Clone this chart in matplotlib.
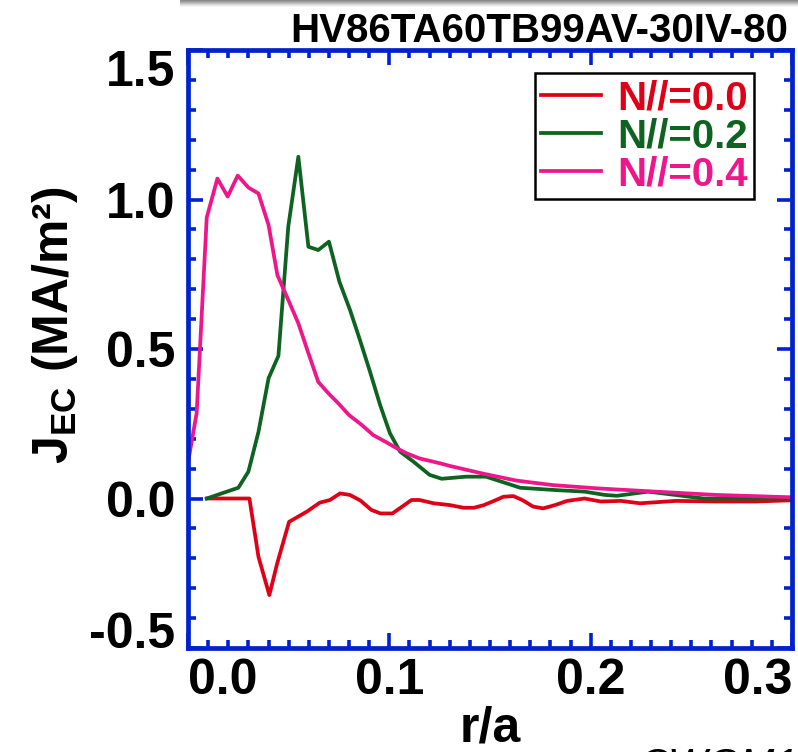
import numpy as np
import matplotlib
matplotlib.use("Agg")
import matplotlib.pyplot as plt
from matplotlib.patches import Rectangle

plt.rcParams["font.family"] = ["Liberation Sans", "DejaVu Sans"]
plt.rcParams["font.weight"] = "bold"
plt.rcParams["mathtext.fontset"] = "custom"
plt.rcParams["mathtext.rm"] = "Liberation Sans:bold"
plt.rcParams["mathtext.bf"] = "Liberation Sans:bold"

# current density profiles vs r/a for three N// values
r_n00 = [0.0094, 0.0305, 0.035, 0.0404, 0.0443, 0.0502, 0.059, 0.0654, 0.0705, 0.0755,
         0.0804, 0.0857, 0.091, 0.0956, 0.1015, 0.1064, 0.111, 0.115, 0.122, 0.130,
         0.137, 0.142, 0.147, 0.153, 0.1567, 0.1616, 0.166, 0.1714, 0.1764, 0.1823,
         0.1883, 0.197, 0.205, 0.215, 0.2245, 0.2424, 0.262, 0.2817, 0.30]
j_n00 = [0.0, 0.0, -0.195, -0.323, -0.217, -0.078, -0.044, -0.014, -0.005, 0.017,
         0.012, -0.007, -0.038, -0.05, -0.05, -0.027, -0.005, -0.005, -0.016, -0.022,
         -0.031, -0.031, -0.022, -0.005, 0.006, 0.008, -0.005, -0.027, -0.033, -0.022,
         -0.008, 0.0, -0.01, -0.008, -0.016, -0.008, -0.01, -0.01, -0.006]

r_n02 = [0.0093, 0.025, 0.030, 0.035, 0.040, 0.0449, 0.0498, 0.0548, 0.0598, 0.0647,
         0.070, 0.0752, 0.0805, 0.0854, 0.0904, 0.0954, 0.1003, 0.1053, 0.112, 0.120,
         0.126, 0.138, 0.148, 0.165, 0.183, 0.197, 0.207, 0.213, 0.2285, 0.242,
         0.256, 0.272, 0.30]
j_n02 = [0.0, 0.036, 0.09, 0.223, 0.402, 0.477, 0.909, 1.143, 0.842, 0.831,
         0.859, 0.725, 0.63, 0.53, 0.424, 0.313, 0.218, 0.157, 0.123, 0.079,
         0.066, 0.073, 0.073, 0.036, 0.028, 0.023, 0.012, 0.009, 0.023, 0.012,
         0.0, 0.0, 0.0]

r_n04 = [0.0, 0.0043, 0.0093, 0.0146, 0.0197, 0.0247, 0.030, 0.035, 0.040, 0.0444,
         0.0498, 0.0548, 0.0598, 0.0647, 0.0697, 0.0747, 0.080, 0.0863, 0.092, 0.098,
         0.1037, 0.1086, 0.115, 0.125, 0.130, 0.146, 0.163, 0.181, 0.203, 0.232,
         0.262, 0.30]
j_n04 = [0.12, 0.286, 0.94, 1.07, 1.01, 1.08, 1.04, 1.02, 0.915, 0.747,
         0.664, 0.586, 0.486, 0.39, 0.352, 0.318, 0.279, 0.246, 0.212, 0.19,
         0.168, 0.151, 0.134, 0.118, 0.109, 0.084, 0.06, 0.045, 0.034, 0.023,
         0.012, 0.004]

labels = ["N//=0.0", "N//=0.2", "N//=0.4"]
colors = ["#DF0018", "#0E6320", "#EE168A"]
xticks = [0.0, 0.1, 0.2, 0.3]
yticks = [-0.5, 0.0, 0.5, 1.0, 1.5]
title = "HV86TA60TB99AV-30IV-80"

blue = "#0022CC"

fig = plt.figure(figsize=(7.98, 7.52), dpi=100)
ax = fig.add_axes([0.2356, 0.1383, 0.7569, 0.7952])

ax.plot(r_n00, j_n00, color=colors[0], lw=2.7, label=labels[0])
ax.plot(r_n02, j_n02, color=colors[1], lw=2.7, label=labels[1])
ax.plot(r_n04, j_n04, color=colors[2], lw=2.7, label=labels[2])

ax.set_xlim(0.0, 0.3)
ax.set_ylim(-0.5, 1.5)
ax.set_xticks(xticks)
ax.set_xticklabels([f"{v:.1f}" for v in xticks])
ax.set_yticks(yticks)
ax.set_yticklabels([f"{v:.1f}" for v in yticks])
ax.set_xticks(np.arange(0.01, 0.3, 0.01), minor=True)
ax.set_yticks(np.arange(-0.4, 1.5, 0.1), minor=True)

for s in ax.spines.values():
    s.set_color(blue)
    s.set_linewidth(3.4)
ax.tick_params(which="both", direction="in", color=blue, top=True, right=True,
               labelsize=36)
ax.tick_params(which="major", length=11, width=2.6)
ax.tick_params(which="minor", length=6, width=2.6)
ax.tick_params(axis="x", pad=7)
ax.tick_params(axis="y", pad=9)

# keep the end labels inside the frame
xt = ax.xaxis.get_major_ticks()
xt[0].label1.set_horizontalalignment("left")
xt[-1].label1.set_horizontalalignment("right")
yt = ax.yaxis.get_major_ticks()
yt[0].label1.set_verticalalignment("baseline")
yt[-1].label1.set_verticalalignment("top")

ax.set_xlabel("r/a", fontsize=36, fontweight="bold", labelpad=1)
ax.set_ylabel(r"J$_\mathrm{EC}$ (MA/m²)", fontsize=36, fontweight="bold")
ax.yaxis.set_label_coords(-0.178, 0.54)

leg = ax.legend(loc="upper right", bbox_to_anchor=(0.937, 0.9615), fontsize=29,
                labelcolor="linecolor", fancybox=False, framealpha=1,
                handlelength=1.5, handletextpad=0.4, borderpad=0.15,
                labelspacing=0.0, borderaxespad=0)
leg.get_frame().set_edgecolor("black")
leg.get_frame().set_linewidth(1.8)
for t in leg.get_texts():
    t.set_fontweight("bold")

fig.text(0.9875, 1 - 42 / 752, title, ha="right", va="baseline",
         fontsize=29, fontweight="bold")

# grey strip along the top edge
shades = ["#8a8a8a", "#9a9a9a", "#adadad", "#c2c2c2", "#d6d6d6", "#e8e8e8", "#f5f5f5"]
for i, g in enumerate(shades):
    fig.patches.append(Rectangle((0.225, 1 - (i + 1) / 752), 0.775, 1.05 / 752,
                                 transform=fig.transFigure, color=g, lw=0))

fig.text(0.80, -26 / 752, "CWGM1", ha="left", va="baseline", fontsize=30,
         fontweight="normal", style="italic")

fig.savefig("out.png", dpi=100)
